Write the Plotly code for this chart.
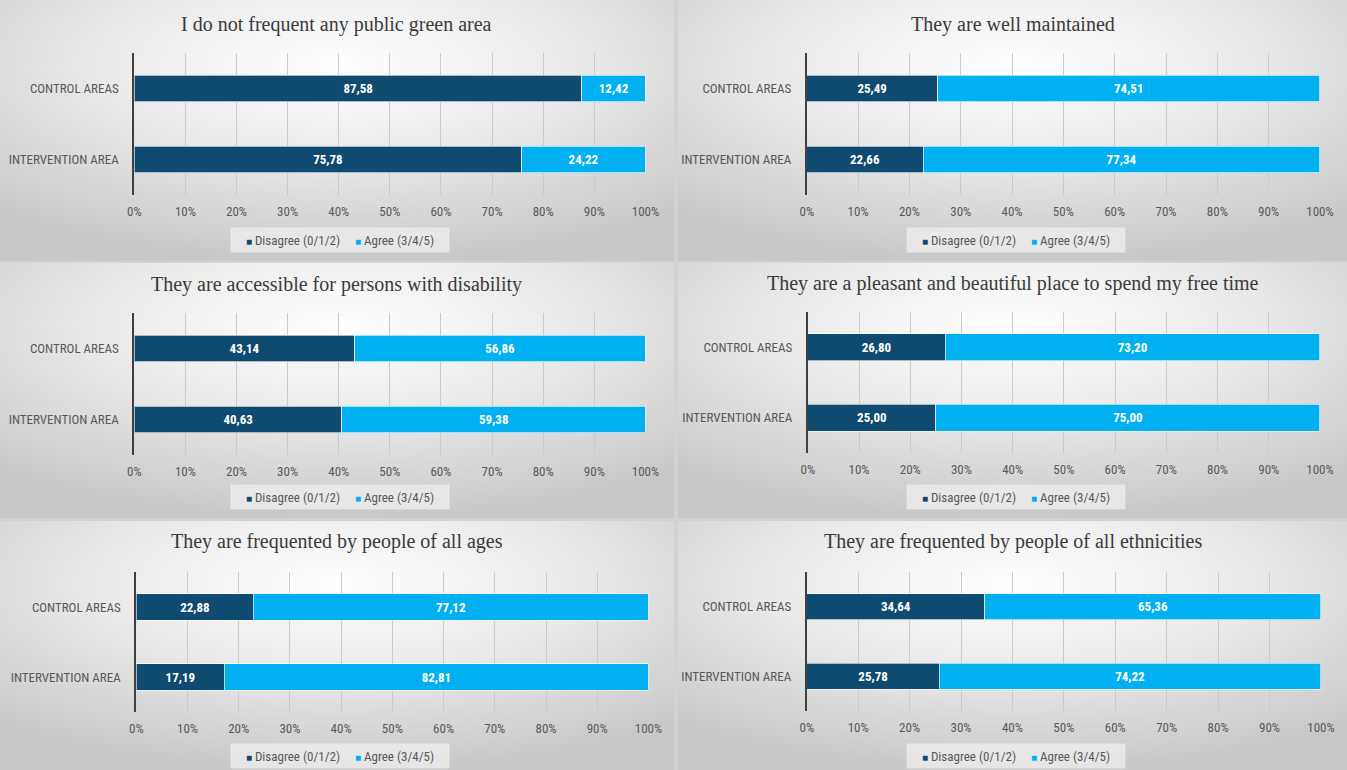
import base64
import plotly.graph_objects as go

W, H = 1347, 770

titles = [
    "I do not frequent any public green area",
    "They are well maintained",
    "They are accessible for persons with disability",
    "They are a pleasant and beautiful place to spend my free time",
    "They are frequented by people of all ages",
    "They are frequented by people of all ethnicities",
]
categories = ["CONTROL AREAS", "INTERVENTION AREA"]
disagree = [
    [87.58, 75.78],
    [25.49, 22.66],
    [43.14, 40.63],
    [26.80, 25.00],
    [22.88, 17.19],
    [34.64, 25.78],
]
agree = [
    [12.42, 24.22],
    [74.51, 77.34],
    [56.86, 59.38],
    [73.20, 75.00],
    [77.12, 82.81],
    [65.36, 74.22],
]
x_ticks = [0, 10, 20, 30, 40, 50, 60, 70, 80, 90, 100]
x_tick_labels = ["0%", "10%", "20%", "30%", "40%", "50%", "60%", "70%", "80%", "90%", "100%"]
series_names = ["Disagree (0/1/2)", "Agree (3/4/5)"]

DARK = "#0f4a70"
LIGHT = "#00b0f0"
LABEL_FONT = "Roboto Condensed, Roboto, Arial, sans-serif"

# panel layout in screen pixels: (panel x0, x1, y0, y1), plot (x0, x1, y0, y1), title y, legend y
panels = [
    ((0, 674, 0, 261), (135, 645, 53, 195), 25, 240),
    ((677, 1347, 0, 261), (806, 1318, 53, 195), 25, 240),
    ((0, 674, 263, 518), (135, 645, 313, 455), 285, 497),
    ((677, 1347, 263, 518), (807, 1318, 312, 453), 283, 497),
    ((0, 674, 521, 770), (137, 648, 572, 712), 541, 756),
    ((677, 1347, 521, 770), (806, 1319, 572, 711), 541, 756),
]

# the page shows the figure between screen x = 8 and x = 1331
X_OFF, X_SPAN = 8.0, 1323.0

def px(x):
    return (x - X_OFF) / X_SPAN

def py(y):
    return 1 - y / H

svg = (
    '<svg xmlns="http://www.w3.org/2000/svg" width="400" height="160" preserveAspectRatio="none">'
    '<defs><radialGradient id="g" cx="50%" cy="25%" r="75%" fx="50%" fy="25%">'
    '<stop offset="0" stop-color="#ffffff"/>'
    '<stop offset="0.5" stop-color="#e8e8e8"/>'
    '<stop offset="1" stop-color="#c8c8c8"/>'
    '</radialGradient></defs>'
    '<rect width="400" height="160" fill="url(#g)"/></svg>'
)
svg_uri = "data:image/svg+xml;base64," + base64.b64encode(svg.encode()).decode()

fig = go.Figure()
layout = dict(
    width=W, height=H,
    margin=dict(l=0, r=0, t=0, b=0),
    paper_bgcolor="#d2d2d2",
    plot_bgcolor="rgba(0,0,0,0)",
    barmode="stack",
    bargap=0.62,
    showlegend=False,
    images=[],
    annotations=[],
)

for i, (pan, plot, ty, ly) in enumerate(panels):
    n = i + 1
    xa = "x" if n == 1 else f"x{n}"
    ya = "y" if n == 1 else f"y{n}"
    for name, vals, col in ((series_names[0], disagree[i], DARK), (series_names[1], agree[i], LIGHT)):
        fig.add_trace(go.Bar(
            y=categories, x=vals, orientation="h", name=name,
            marker=dict(color=col, line=dict(color="rgba(255,255,255,0.8)", width=0.8)),
            text=[f"{v:.2f}".replace(".", ",") for v in vals],
            textposition="inside", insidetextanchor="middle", textangle=0,
            constraintext="none",
            textfont=dict(color="white", size=13, family=LABEL_FONT, weight="bold"),
            xaxis=xa, yaxis=ya, hoverinfo="skip",
        ))
    xkey = "xaxis" if n == 1 else f"xaxis{n}"
    ykey = "yaxis" if n == 1 else f"yaxis{n}"
    layout[xkey] = dict(
        domain=[max(0, px(plot[0])), min(1, px(plot[1]))], anchor=ya, range=[0, 100],
        tickvals=x_ticks, ticktext=x_tick_labels, showgrid=True, gridcolor="#cbcbcb",
        gridwidth=1, zeroline=False, showline=False,
        ticks="outside", ticklen=4, tickcolor="rgba(0,0,0,0)",
        tickfont=dict(size=13, color="#595959", family=LABEL_FONT),
        fixedrange=True,
    )
    layout[ykey] = dict(
        domain=[py(plot[3]), py(plot[2])], anchor=xa, autorange="reversed",
        showline=True, linecolor="#404040", linewidth=2, showgrid=False,
        ticks="outside", ticklen=11, tickcolor="rgba(0,0,0,0)",
        tickfont=dict(size=13, color="#595959", family=LABEL_FONT),
        fixedrange=True,
    )
    layout["images"].append(dict(
        source=svg_uri, xref="paper", yref="paper",
        x=px(pan[0]), y=py(pan[2]), sizex=px(pan[1]) - px(pan[0]),
        sizey=py(pan[2]) - py(pan[3]), sizing="stretch", layer="below",
        xanchor="left", yanchor="top",
    ))
    layout["annotations"].append(dict(
        text=titles[i], xref="paper", yref="paper",
        x=px((pan[0] + pan[1]) / 2), y=py(ty), xanchor="center", yanchor="middle",
        showarrow=False,
        font=dict(family="Liberation Serif, Times New Roman, serif", size=20, color="#3a3a3a"),
    ))
    legend_text = (
        f"<span style='color:{DARK};font-size:10px'>■</span> {series_names[0]}"
        f"&nbsp;&nbsp;&nbsp;&nbsp;&nbsp;"
        f"<span style='color:{LIGHT};font-size:10px'>■</span> {series_names[1]}"
    )
    layout["annotations"].append(dict(
        text=legend_text, xref="paper", yref="paper",
        x=px((pan[0] + pan[1]) / 2 + 3), y=py(ly), xanchor="center", yanchor="middle",
        showarrow=False, width=214, height=20, align="center", valign="middle",
        bgcolor="rgba(242,242,242,0.7)", borderpad=2,
        font=dict(size=13, color="#595959", family=LABEL_FONT),
    ))

fig.update_layout(**layout)
fig.write_html("out.html")
